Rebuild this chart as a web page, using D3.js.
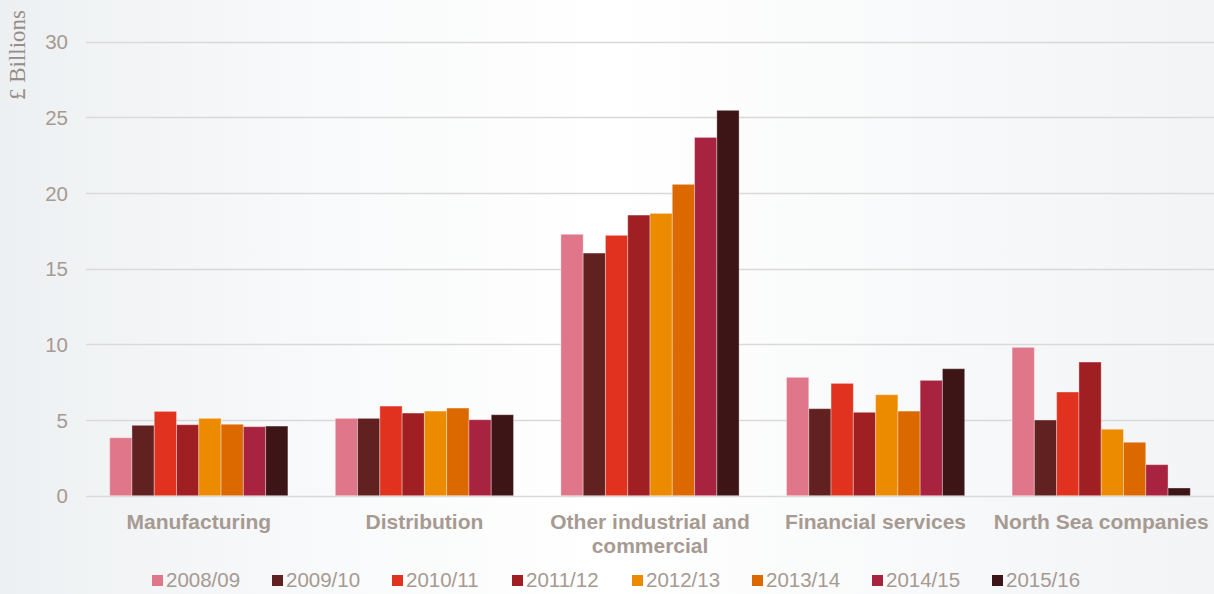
<!DOCTYPE html>
<html>
<head>
<meta charset="utf-8">
<script src="https://cdn.jsdelivr.net/npm/d3@7"></script>
<style>
html,body{margin:0;padding:0;background:#fff;}
svg{display:block;}
</style>
</head>
<body>
<svg id="chart" width="1214" height="594"></svg>
<script>
const categories = ["Manufacturing", "Distribution", "Other industrial and commercial", "Financial services", "North Sea companies"];
const categoryLines = [["Manufacturing"], ["Distribution"], ["Other industrial and", "commercial"], ["Financial services"], ["North Sea companies"]];
const years = ["2008/09", "2009/10", "2010/11", "2011/12", "2012/13", "2013/14", "2014/15", "2015/16"];
const colors = ["#E07689", "#622121", "#E0321F", "#A01F23", "#EC8B00", "#DC6900", "#A8233F", "#3D1516"];
const v200809 = [3.83, 5.11, 17.27, 7.82, 9.80];
const v200910 = [4.65, 5.11, 16.03, 5.75, 5.00];
const v201011 = [5.57, 5.92, 17.20, 7.42, 6.85];
const v201112 = [4.69, 5.46, 18.54, 5.51, 8.83];
const v201213 = [5.11, 5.59, 18.65, 6.67, 4.39];
const v201314 = [4.72, 5.79, 20.57, 5.59, 3.53];
const v201415 = [4.56, 5.02, 23.67, 7.62, 2.05];
const v201516 = [4.60, 5.35, 25.46, 8.39, 0.51];
const series = [v200809, v200910, v201011, v201112, v201213, v201314, v201415, v201516];
const yTicks = [0, 5, 10, 15, 20, 25, 30];
const yLabel = "£ Billions";

const svg = d3.select("#chart");
const W = 1214, H = 594;
const textColor = "#A69A92";
const sans = "'Liberation Sans', Arial, sans-serif";

// background
const defs = svg.append("defs");
const grad = defs.append("linearGradient").attr("id", "bg").attr("x1", "0").attr("x2", "1").attr("y1", "0").attr("y2", "0");
grad.append("stop").attr("offset", "0%").attr("stop-color", "#EDF0F2");
grad.append("stop").attr("offset", "25%").attr("stop-color", "#F8F9FA");
grad.append("stop").attr("offset", "50%").attr("stop-color", "#FFFFFF");
grad.append("stop").attr("offset", "80%").attr("stop-color", "#F7F8F9");
grad.append("stop").attr("offset", "100%").attr("stop-color", "#F2F4F5");
svg.append("rect").attr("width", W).attr("height", H).attr("fill", "url(#bg)");

const x0 = d3.scaleBand().domain(categories).range([86, 1214]).paddingInner(0.21).paddingOuter(0.105);
const x1 = d3.scaleBand().domain(years).range([0, x0.bandwidth()]).padding(0);
const y = d3.scaleLinear().domain([0, 30]).range([495.7, 41.6]);

// gridlines
svg.append("g").selectAll("line").data(yTicks).join("line")
  .attr("x1", 86).attr("x2", 1214)
  .attr("y1", d => Math.round(y(d)) + 0.5).attr("y2", d => Math.round(y(d)) + 0.5)
  .attr("stroke", "#D9D9D9").attr("stroke-width", 1.5);

// y axis labels
const yAxis = d3.axisLeft(y).tickValues(yTicks).tickSize(0).tickPadding(0);
const gy = svg.append("g").attr("transform", "translate(68,0)").call(yAxis);
gy.select(".domain").remove();
gy.selectAll("text").attr("fill", textColor).attr("font-family", sans).attr("font-size", 20.5).attr("dy", "0.35em");

svg.append("text").attr("transform", "translate(25,55) rotate(-90)")
  .attr("text-anchor", "middle").attr("fill", "#978C87")
  .attr("font-family", "'Liberation Serif', 'Times New Roman', serif").attr("font-size", 23)
  .text(yLabel);

// bars
const groups = svg.append("g").selectAll("g").data(categories).join("g")
  .attr("transform", d => `translate(${x0(d)},0)`);
groups.selectAll("rect").data((c, ci) => years.map((yr, si) => ({yr, si, v: series[si][ci]})))
  .join("rect")
  .attr("x", d => x1(d.yr))
  .attr("width", x1.bandwidth())
  .attr("y", d => y(d.v))
  .attr("height", d => y(0) - y(d.v))
  .attr("fill", d => colors[d.si])
  .attr("stroke", "rgba(255,255,255,0.35)")
  .attr("stroke-width", 1);

// category labels
const cl = svg.append("g").selectAll("text").data(categories).join("text")
  .attr("x", d => x0(d) + x0.bandwidth() / 2)
  .attr("y", 529)
  .attr("text-anchor", "middle")
  .attr("fill", textColor)
  .attr("font-family", sans)
  .attr("font-weight", "bold")
  .attr("font-size", 21);
cl.each(function(d, i) {
  const t = d3.select(this);
  categoryLines[i].forEach((line, li) => {
    t.append("tspan").attr("x", x0(d) + x0.bandwidth() / 2).attr("dy", li === 0 ? 0 : 24).text(line);
  });
});

// legend
const leg = svg.append("g").selectAll("g").data(years).join("g")
  .attr("transform", (d, i) => `translate(${152 + i * 120},0)`);
leg.append("rect").attr("x", 0).attr("y", 575).attr("width", 11).attr("height", 11)
  .attr("fill", (d, i) => colors[i]);
leg.append("text").attr("x", 14).attr("y", 587)
  .attr("fill", textColor).attr("font-family", sans)
  .attr("font-size", 20.5).text(d => d);
</script>
</body>
</html>
